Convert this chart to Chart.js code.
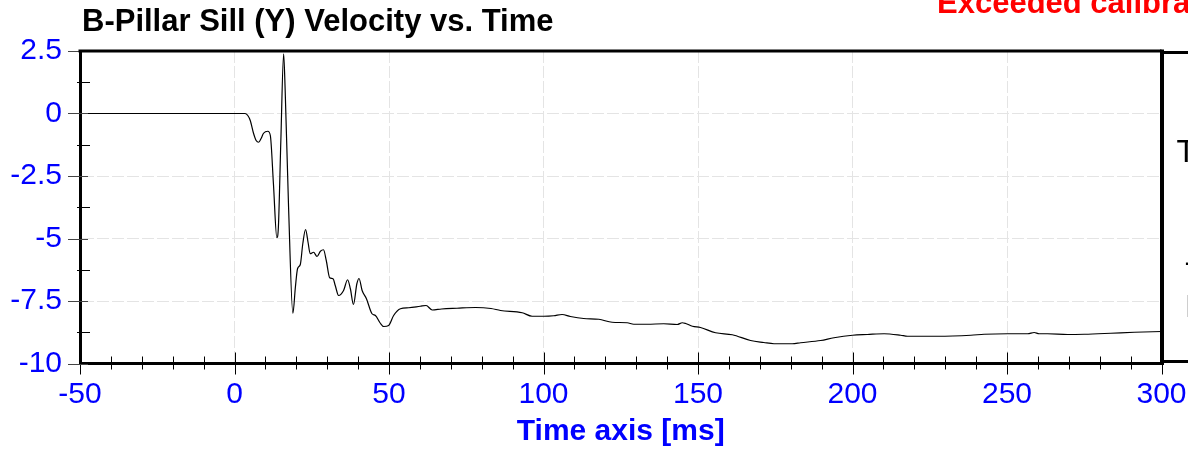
<!DOCTYPE html>
<html><head><meta charset="utf-8">
<script src="https://cdn.jsdelivr.net/npm/chart.js@4"></script>
<style>html,body{margin:0;padding:0;background:#fff;overflow:hidden}canvas{display:block}</style>
</head><body>
<canvas id="c" width="1188" height="455"></canvas>
<script>
const timeMs = [-50,3.4,4.3,5.1,6.2,7.0,7.8,8.6,9.4,10.8,11.6,12.6,13.7,14.2,15.0,15.9,16.4,17.5,18.9,19.7,20.4,21.3,22.1,23.0,23.8,24.5,25.6,26.7,27.8,28.8,29.7,30.8,31.9,32.6,33.7,35.3,36.6,37.5,38.5,39.6,40.3,41.3,42.7,44.5,45.6,47.2,48.3,49.9,51.5,53.7,56.4,60.1,62.0,64.0,67.0,72.0,78.0,83.0,86.1,93.1,96.3,100.1,103.3,106.0,108.7,113.0,117.9,122.2,127.1,129.2,133.6,138.9,143.3,144.9,146.0,148.2,150.8,155.7,161.1,167.0,171.3,174.6,180.5,183.2,189.7,194.0,200.0,204.8,210.2,215.6,217.8,221.0,227.5,238.3,242.6,250.2,256.7,258.8,260.4,263.1,269.6,275.0,283.6,291.2,300];
const velocity = [0,0,-0.08,-0.28,-0.81,-1.08,-1.15,-1.0,-0.79,-0.71,-0.88,-2.81,-4.97,-4.55,-1.08,2.39,0.92,-3.75,-7.99,-6.95,-6.21,-6.04,-5.21,-4.64,-5.15,-5.61,-5.55,-5.72,-5.51,-5.45,-5.88,-6.57,-6.61,-6.88,-7.28,-7.08,-6.65,-7.01,-7.64,-6.81,-6.6,-7.08,-7.41,-8.01,-8.08,-8.39,-8.52,-8.48,-8.08,-7.81,-7.77,-7.71,-7.68,-7.86,-7.82,-7.79,-7.76,-7.80,-7.88,-7.97,-8.11,-8.11,-8.09,-8.04,-8.12,-8.20,-8.23,-8.35,-8.37,-8.43,-8.43,-8.41,-8.44,-8.37,-8.40,-8.51,-8.56,-8.77,-8.85,-9.08,-9.16,-9.21,-9.21,-9.17,-9.08,-8.97,-8.87,-8.84,-8.81,-8.87,-8.91,-8.91,-8.91,-8.87,-8.83,-8.81,-8.81,-8.76,-8.81,-8.81,-8.84,-8.83,-8.79,-8.75,-8.72];
const xTicks = [-50,0,50,100,150,200,250,300];
const yTicks = [2.5,0,-2.5,-5,-7.5,-10];
const xMinorPerMajor = 5;
const yMinorPerMajor = 2;
const chartTitle = 'B-Pillar Sill (Y) Velocity vs. Time';
const warningText = 'Exceeded calibration';
const xAxisTitle = 'Time axis [ms]';
const sideTexts = ['T', '-', 'I'];

const FONT = "'Liberation Sans', Arial, Helvetica, sans-serif";
Chart.defaults.font.family = FONT;

const decor = {
  id: 'decor',
  afterDraw(chart) {
    const {ctx, chartArea: a, scales: {x, y}} = chart;
    ctx.save();
    ctx.strokeStyle = '#000';
    ctx.lineWidth = 1;
    for (let i = 0; i < xTicks.length; i++) {
      const t0 = xTicks[i];
      const px = Math.round(x.getPixelForValue(t0)) + 0.5;
      ctx.beginPath();
      ctx.moveTo(px, i === 0 ? a.bottom : a.bottom - 11);
      ctx.lineTo(px, a.bottom + 11);
      ctx.stroke();
      if (i < xTicks.length - 1) {
        const step = (xTicks[i + 1] - t0) / xMinorPerMajor;
        for (let k = 1; k < xMinorPerMajor; k++) {
          const pm = Math.round(x.getPixelForValue(t0 + k * step)) + 0.5;
          ctx.beginPath();
          ctx.moveTo(pm, a.bottom - 7);
          ctx.lineTo(pm, a.bottom + 6);
          ctx.stroke();
        }
      }
    }
    for (let i = 0; i < yTicks.length; i++) {
      const v0 = yTicks[i];
      const py = Math.round(y.getPixelForValue(v0)) + 0.5;
      ctx.strokeStyle = '#444';
      ctx.beginPath();
      ctx.moveTo(a.left - 12, py);
      ctx.lineTo(i === 0 ? a.left : a.left + 8, py);
      ctx.stroke();
      ctx.strokeStyle = '#000';
      if (i < yTicks.length - 1) {
        const step = (yTicks[i + 1] - v0) / yMinorPerMajor;
        for (let k = 1; k < yMinorPerMajor; k++) {
          const pm = Math.round(y.getPixelForValue(v0 + k * step)) + 0.5;
          ctx.beginPath();
          ctx.moveTo(a.left - 3, pm);
          ctx.lineTo(a.left + 10, pm);
          ctx.stroke();
        }
      }
    }
    ctx.strokeStyle = '#000';
    ctx.lineWidth = 3;
    ctx.beginPath();
    ctx.moveTo(a.left - 1.5, a.top);
    ctx.lineTo(a.right, a.top);
    ctx.stroke();
    ctx.lineWidth = 4;
    ctx.beginPath();
    ctx.moveTo(a.right + 0.5, a.top - 1.5);
    ctx.lineTo(a.right + 0.5, a.bottom + 1.5);
    ctx.stroke();
    ctx.lineWidth = 3;
    ctx.beginPath();
    ctx.moveTo(a.right + 2, a.top + 1.5);
    ctx.lineTo(1200, a.top + 1.5);
    ctx.moveTo(a.right + 2, a.bottom - 2);
    ctx.lineTo(1200, a.bottom - 2);
    ctx.stroke();
    ctx.textBaseline = 'alphabetic';
    ctx.textAlign = 'left';
    ctx.fillStyle = '#000';
    ctx.font = '32px ' + FONT;
    ctx.fillText(sideTexts[0], a.right + 15, 162);
    ctx.fillText(sideTexts[1], a.right + 23, 272);
    ctx.fillStyle = '#aaa';
    ctx.fillText(sideTexts[2], a.right + 23, 317);
    ctx.fillStyle = '#000';
    ctx.font = 'bold 31px ' + FONT;
    ctx.fillText(chartTitle, 82, 31);
    ctx.fillStyle = '#ff0000';
    ctx.fillText(warningText, 937, 13);
    ctx.restore();
  }
};

new Chart(document.getElementById('c'), {
  type: 'line',
  data: {
    datasets: [{
      data: timeMs.map((t, i) => ({x: t, y: velocity[i]})),
      borderColor: '#000',
      borderWidth: 1.2,
      pointRadius: 0,
      fill: false,
      cubicInterpolationMode: 'monotone'
    }]
  },
  options: {
    responsive: false,
    animation: false,
    devicePixelRatio: 1,
    layout: {padding: {left: 0, right: 26.5, top: 51, bottom: 0}},
    plugins: {legend: {display: false}, title: {display: false}, tooltip: {enabled: false}},
    scales: {
      x: {
        type: 'linear', min: -50, max: 300,
        afterBuildTicks: s => { s.ticks = xTicks.map(v => ({value: v})); },
        afterFit: s => { s.height = 91.5; s.paddingLeft = 0; s.paddingRight = 0; },
        ticks: {color: '#0000ff', font: {size: 30}, padding: 13, maxRotation: 0, autoSkip: false, callback: v => String(v)},
        grid: {color: '#e4e4e4', lineWidth: 1, drawTicks: false},
        border: {color: '#000', width: 3, dash: [12, 3]},
        title: {display: true, text: xAxisTitle, color: '#0000ff', font: {size: 30, weight: 'bold'}, padding: {top: 0, bottom: 5}}
      },
      y: {
        type: 'linear', min: -10, max: 2.5,
        afterBuildTicks: s => { s.ticks = yTicks.map(v => ({value: v})); },
        afterFit: s => { s.width = 80; s.paddingTop = 0; s.paddingBottom = 0; },
        ticks: {color: '#0000ff', font: {size: 30}, padding: 18, autoSkip: false, callback: v => String(v)},
        grid: {color: '#e4e4e4', lineWidth: 1, drawTicks: false},
        border: {color: '#000', width: 3, dash: [12, 3]}
      }
    }
  },
  plugins: [decor]
});
</script>
</body></html>
